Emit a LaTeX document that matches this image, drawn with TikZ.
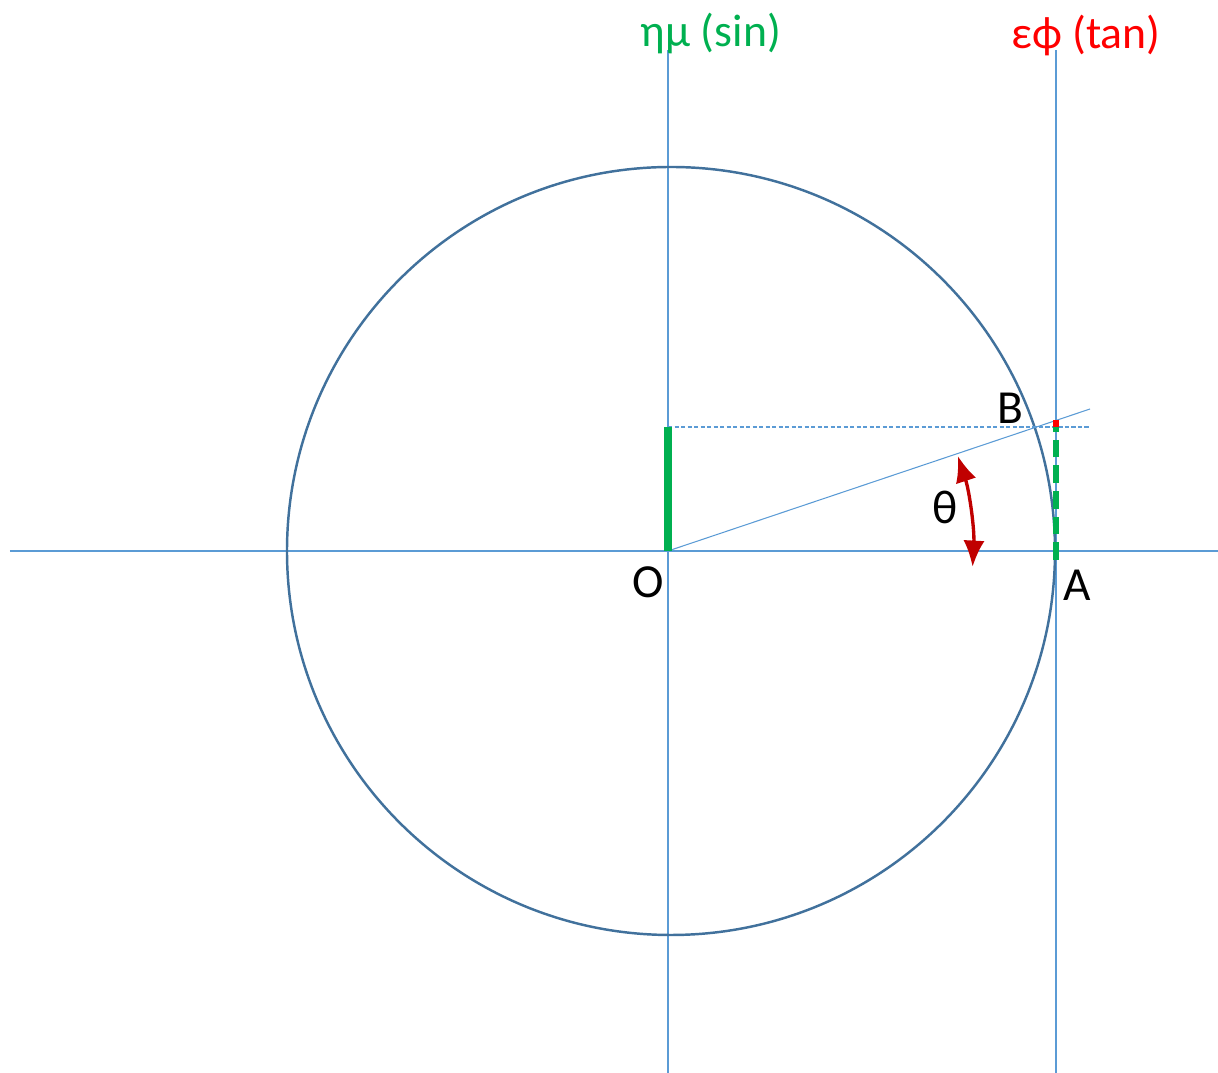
\documentclass[tikz,border=0pt]{standalone}
\usepackage{fontspec}
\setmainfont{Carlito}
\usepackage{xcolor}
\usepackage{tikz}
\usetikzlibrary{calc,arrows.meta,positioning}

\definecolor{axisblue}{HTML}{5B9BD5}
\definecolor{circleblue}{HTML}{41719C}
\definecolor{singreen}{HTML}{00B050}
\definecolor{tanred}{HTML}{FF0000}
\definecolor{anglered}{HTML}{C00000}

\begin{document}
\begin{tikzpicture}[
  x=2cm,y=2cm,
  line join=round,
  axisline/.style={axisblue,line width=0.75pt},
  unitcircle/.style={circleblue,line width=1.4pt},
  helperline/.style={axisblue,line width=0.6pt,dash pattern=on 2.5pt off 1.2pt},
  sinpart/.style={singreen,line width=4.4pt},
  tanpart/.style={singreen,line width=3.4pt,dash pattern=on 10pt off 4.6pt},
  tanextra/.style={tanred,line width=3.4pt},
  anglearrow/.style={anglered,line width=1.9pt,{Latex[length=15pt,width=12pt]}-{Latex[length=15pt,width=12pt]}},
  pointlabel/.style={font=\fontsize{27}{32}\selectfont,inner sep=0pt},
  axislabel/.style={font=\fontsize{26}{31}\selectfont,inner sep=0pt}
]
\path[use as bounding box] (-6.68,-5.22) rectangle (5.50,5.51);

% main points
\coordinate (O) at (0,0);
\coordinate (A) at (3.88,0);
\coordinate (T) at (3.88,1.306);
\coordinate (S) at (0,1.24);
\coordinate (Sr) at (3.88,1.24);
\coordinate (Rend) at (4.22,1.42);
\coordinate (Hend) at (4.22,1.24);

% axes
\coordinate (xl) at (-6.58,0);
\coordinate (xr) at (5.50,0);
\coordinate (yt) at (0,5.01);
\coordinate (yb) at (0,-5.22);
\coordinate (tt) at (3.88,5.01);
\coordinate (tb) at (3.88,-5.22);
\draw[axisline] (xl) -- (xr);
\draw[axisline] (yt) -- (yb);
\draw[axisline] (tt) -- (tb);

\node[axislabel,singreen] (sinlab) at (0.43,5.18) {ημ (sin)};
\node[axislabel,tanred] (tanlab) at (4.18,5.16) {εϕ (tan)};

% circle
\draw[unitcircle] (0.03,0) circle[radius=3.84];

% ray and projection
\draw[axisline,line width=0.6pt] (O) -- (Rend);
\draw[helperline] (S) -- (Hend);

\draw[sinpart] (O) -- (S);
\draw[tanpart] (3.88,-0.09) -- (Sr);
\draw[tanextra] (Sr) -- (T);

% angle
\draw[anglearrow] ($(O)+(-3:3.05)$) arc[start angle=-3,end angle=18.2,radius=3.05];
\node[pointlabel] (theta) at (2.77,0.44) {θ};

\node[pointlabel] (Olab) at (-0.20,-0.31) {O};
\node[pointlabel] (Alab) at (4.09,-0.34) {A};
\node[pointlabel] (Blab) at (3.42,1.43) {B};
\end{tikzpicture}
\end{document}
